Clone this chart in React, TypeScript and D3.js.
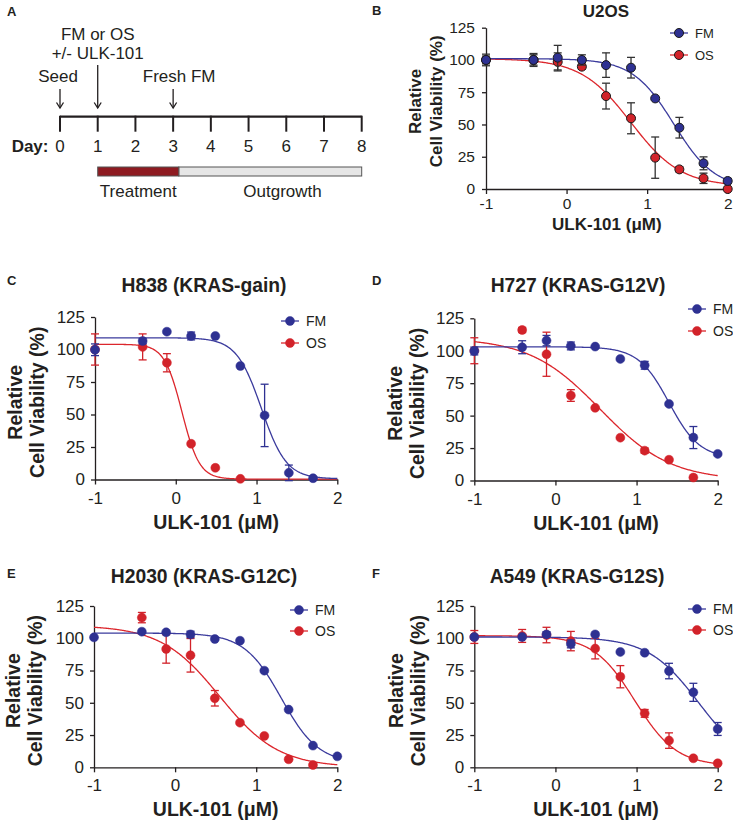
import * as d3 from 'd3';
import { useEffect, useRef } from 'react';

const FONT = "'Liberation Sans', Arial, Helvetica, sans-serif";
const INK = '#231f20';
const BLUE = '#2e3192';
const RED = '#d2232a';
const BLUE_LINE = '#3b3b9d';
const RED_LINE = '#dc262c';

// timeline (panel A)
const days = [0, 1, 2, 3, 4, 5, 6, 7, 8];
const treatment = [1, 3.15];
const outgrowth = [3.15, 8];
const events = [
  { day: 0, lines: ['Seed'], dx: -2 },
  { day: 1, lines: ['FM or OS', '+/- ULK-101'], dx: 0 },
  { day: 3, lines: ['Fresh FM'], dx: 6 },
];

// log10 ULK-101 dose (µM), 2-fold series 0.1 … 100
const logDose = [-1, -0.41, -0.11, 0.19, 0.49, 0.8, 1.1, 1.4, 1.7, 2];
const xTicks = [-1, 0, 1, 2];
const yTicks = [0, 25, 50, 75, 100, 125];

// fits: [top, bottom, logIC50, hill]
const u2osFM = [100, 100, 101.8, 100, 96, 94, 70.2, 47.5, 19.9, 6.2];
const u2osFMErr = [4.5, 5, 9.5, 4, 9.5, 8, 1, 8, 5, 2];
const u2osOS = [100, 100, 98.5, 94.8, 72, 54.8, 24.3, 15.2, 8.3, 0];
const u2osOSErr = [3, 4, 7, 2, 10, 12, 16, 2, 4, 1];
const u2osFMFit = [101, 0, 1.33, 1.7];
const u2osOSFit = [101, 2, 0.8, 1.4];

const h838FM = [99.8, 106.5, 113.7, 110.4, 110.4, 87.3, 49.3, 5.1, 1, null];
const h838FMErr = [4.5, 2, 1, 3, 1, 1, 24, 6, 1, 0];
const h838OS = [100, 102, 89.8, 27.5, 9, 0.5, null, null, null, null];
const h838OSErr = [12, 10, 7, 1, 1, 0.5, 0, 0, 0, 0];
const h838FMFit = [109, 0.5, 1.06, 2.8];
const h838OSFit = [104, 0.3, 0.076, 4];

const h727FM = [99.8, 102.7, 107.8, 103.7, 103.2, 93.7, 88.8, 59, 33.1, 20.5];
const h727FMErr = [3, 5, 4, 3, 1, 1, 3, 1, 8.5, 1];
const h727OS = [100, 116, 97.3, 65.5, 56, 33, 23, 16, 2.3, null];
const h727OSErr = [10, 2, 17, 4.5, 1, 1, 2, 1, 1, 0];
const h727FMFit = [103, 17, 1.4, 2.3];
const h727OSFit = [110, 0, 0.55, 1];

const h2030FM = [100.7, 105.1, 104.6, 103, 99.4, 98.1, 74.9, 44.7, 16.8, 8.5];
const h2030FMErr = [1, 1, 1, 2.5, 1, 1, 1, 1, 1, 1];
const h2030OS = [null, 116, 91.7, 86.8, 53.5, 34.6, 24.3, 6.2, 1.8, null];
const h2030OSErr = [0, 4, 11, 13, 6, 1, 1, 1, 1, 0];
const h2030FMFit = [104, 3, 1.31, 1.9];
const h2030OSFit = [110, 0, 0.55, 1.2];

const a549FM = [101, 101, 103, 95.6, 103, 89.4, 88.8, 74.6, 58.1, 29.7];
const a549FMErr = [1, 1, 2, 3, 1, 1, 1, 6, 7, 5];
const a549OS = [101, 101.8, 102.5, 97.8, 92, 70.2, 41.8, 20.7, 7, 3.1];
const a549OSErr = [5, 5, 6, 7.5, 8, 8.6, 3, 6, 1, 1];
const a549FMFit = [101, 0, 1.76, 1.4];
const a549OSFit = [102, 1, 0.98, 1.7];

// panel B is drawn a touch smaller than C–F in the original figure
const small = { title: 17, label: 17, tick: 15.5, legend: 13, labelShift: -7 };
const large = { title: 19.3, label: 19.5, tick: 17, legend: 14, labelShift: 4 };

const panels = [
  {
    letter: 'B', title: 'U2OS', fm: u2osFM, fmErr: u2osFMErr, os: u2osOS, osErr: u2osOSErr,
    fmFit: u2osFMFit, osFit: u2osOSFit, sz: small,
    xr: [486, 727.7], yr: [189, 27.7], letterPos: [372, 15], titlePos: [606, 17],
    legend: [679, 33, 55], relOff: -65, cellOff: -44, tickPad: 4, xLabOff: 40.5, outlined: true,
  },
  {
    letter: 'C', title: 'H838 (KRAS-gain)', fm: h838FM, fmErr: h838FMErr, os: h838OS, osErr: h838OSErr,
    fmFit: h838FMFit, osFit: h838OSFit, sz: large,
    xr: [95, 337.3], yr: [479.5, 317], letterPos: [7, 285], titlePos: [204, 292],
    legend: [290, 321, 343], relOff: -73, cellOff: -51, tickPad: 7, xLabOff: 49, outlined: false,
  },
  {
    letter: 'D', title: 'H727 (KRAS-G12V)', fm: h727FM, fmErr: h727FMErr, os: h727OS, osErr: h727OSErr,
    fmFit: h727FMFit, osFit: h727OSFit, sz: large,
    xr: [474.3, 717.7], yr: [480.5, 318.3], letterPos: [372, 285], titlePos: [578, 292],
    legend: [697, 309, 331], relOff: -72, cellOff: -50, tickPad: 7, xLabOff: 49, outlined: false,
  },
  {
    letter: 'E', title: 'H2030 (KRAS-G12C)', fm: h2030FM, fmErr: h2030FMErr, os: h2030OS, osErr: h2030OSErr,
    fmFit: h2030FMFit, osFit: h2030OSFit, sz: large,
    xr: [94, 337.3], yr: [767.3, 606], letterPos: [7, 578], titlePos: [204, 583],
    legend: [299, 610, 631], relOff: -74, cellOff: -52, tickPad: 7, xLabOff: 49, outlined: false,
  },
  {
    letter: 'F', title: 'A549 (KRAS-G12S)', fm: a549FM, fmErr: a549FMErr, os: a549OS, osErr: a549OSErr,
    fmFit: a549FMFit, osFit: a549OSFit, sz: large,
    xr: [474.3, 717.7], yr: [767.3, 606], letterPos: [372, 578], titlePos: [577, 583],
    legend: [697, 609, 630], relOff: -71, cellOff: -49, tickPad: 7, xLabOff: 49, outlined: false,
  },
];

const logistic = (p: number[], x: number) => p[1] + (p[0] - p[1]) / (1 + Math.pow(10, p[3] * (x - p[2])));

function drawTimeline(svg: d3.Selection<SVGSVGElement, unknown, null, undefined>) {
  const g = svg.append('g').attr('font-family', FONT).attr('fill', INK);
  const x = d3.scaleLinear().domain([0, 8]).range([60, 361.7]);
  const lineY = 116.7;

  g.append('text').attr('x', 7).attr('y', 16).attr('font-size', 13).attr('font-weight', 700).text('A');

  g.append('line')
    .attr('x1', x(0)).attr('x2', x(8)).attr('y1', lineY).attr('y2', lineY)
    .attr('stroke', INK).attr('stroke-width', 2.2);
  g.selectAll('line.tick')
    .data(days)
    .join('line')
    .attr('class', 'tick')
    .attr('x1', (d) => x(d)).attr('x2', (d) => x(d))
    .attr('y1', lineY - 1).attr('y2', lineY + 15)
    .attr('stroke', INK).attr('stroke-width', 2);
  g.selectAll('text.day')
    .data(days)
    .join('text')
    .attr('class', 'day')
    .attr('x', (d) => x(d)).attr('y', 151.5)
    .attr('text-anchor', 'middle').attr('font-size', 17)
    .text((d) => d);
  g.append('text').attr('x', 48.5).attr('y', 151.5).attr('text-anchor', 'end')
    .attr('font-size', 17).attr('font-weight', 700).text('Day:');

  // treatment / outgrowth bar
  g.append('rect')
    .attr('x', x(outgrowth[0])).attr('y', 167).attr('width', x(outgrowth[1]) - x(outgrowth[0])).attr('height', 9)
    .attr('fill', '#e6e6e6').attr('stroke', '#555').attr('stroke-width', 1);
  g.append('rect')
    .attr('x', x(treatment[0])).attr('y', 167).attr('width', x(treatment[1]) - x(treatment[0])).attr('height', 9)
    .attr('fill', '#8e1b21').attr('stroke', '#555').attr('stroke-width', 1);
  g.append('text').attr('x', (x(treatment[0]) + x(treatment[1])) / 2).attr('y', 197)
    .attr('text-anchor', 'middle').attr('font-size', 17).text('Treatment');
  g.append('text').attr('x', x(5.9)).attr('y', 197)
    .attr('text-anchor', 'middle').attr('font-size', 17).text('Outgrowth');

  // arrows + labels
  events.forEach((ev) => {
    const ax = x(ev.day);
    const top = ev.lines.length > 1 ? 65 : 89;
    const tip = 108;
    g.append('line').attr('x1', ax).attr('x2', ax).attr('y1', top).attr('y2', tip)
      .attr('stroke', INK).attr('stroke-width', 1.3);
    g.append('path').attr('d', `M${ax - 3.5},${tip - 5.5}L${ax},${tip}L${ax + 3.5},${tip - 5.5}`)
      .attr('fill', 'none').attr('stroke', INK).attr('stroke-width', 1.3);
    const base = ev.lines.length > 1 ? 39.5 : 82;
    ev.lines.forEach((t, i) => {
      g.append('text').attr('x', ax + ev.dx).attr('y', base + i * 19.5)
        .attr('text-anchor', 'middle').attr('font-size', 17).text(t);
    });
  });
}

function drawPanel(svg: d3.Selection<SVGSVGElement, unknown, null, undefined>, p: (typeof panels)[number]) {
  const g = svg.append('g').attr('font-family', FONT);
  const x = d3.scaleLinear().domain([-1, 2]).range(p.xr);
  const y = d3.scaleLinear().domain([0, 125]).range(p.yr);
  const x0 = p.xr[0];
  const yMid = (p.yr[0] + p.yr[1]) / 2 + p.sz.labelShift;

  g.append('text').attr('x', p.letterPos[0]).attr('y', p.letterPos[1])
    .attr('font-size', 13).attr('font-weight', 700).attr('fill', INK).text(p.letter);
  g.append('text').attr('x', p.titlePos[0]).attr('y', p.titlePos[1])
    .attr('text-anchor', 'middle').attr('font-size', p.sz.title).attr('font-weight', 700).attr('fill', INK).text(p.title);

  // axes
  const xAxis = g.append('g')
    .attr('transform', `translate(0,${p.yr[0]})`)
    .call(d3.axisBottom(x).tickValues(xTicks).tickSize(5).tickSizeOuter(0).tickPadding(p.tickPad).tickFormat((d) => String(d)));
  const yAxis = g.append('g')
    .attr('transform', `translate(${x0},0)`)
    .call(d3.axisLeft(y).tickValues(yTicks).tickSize(4).tickSizeOuter(0).tickPadding(p.outlined ? 7 : 6));
  [xAxis, yAxis].forEach((a) => {
    a.selectAll('path, line').attr('stroke', INK).attr('stroke-width', 1.3);
    a.selectAll('text').attr('font-size', p.sz.tick).attr('fill', INK).attr('font-family', FONT);
  });

  // axis titles
  g.append('text').attr('x', (p.xr[0] + p.xr[1]) / 2).attr('y', p.yr[0] + p.xLabOff)
    .attr('text-anchor', 'middle').attr('font-size', p.sz.label).attr('font-weight', 700).attr('fill', INK)
    .text('ULK-101 (\u03bcM)');
  g.append('text').attr('transform', `translate(${x0 + p.relOff},${yMid}) rotate(-90)`)
    .attr('text-anchor', 'middle').attr('font-size', p.sz.label).attr('font-weight', 700).attr('fill', INK).text('Relative');
  g.append('text').attr('transform', `translate(${x0 + p.cellOff},${yMid}) rotate(-90)`)
    .attr('text-anchor', 'middle').attr('font-size', p.sz.label).attr('font-weight', 700).attr('fill', INK).text('Cell Viability (%)');

  const series = [
    { vals: p.os, err: p.osErr, fit: p.osFit, fill: RED, line: RED_LINE },
    { vals: p.fm, err: p.fmErr, fit: p.fmFit, fill: BLUE, line: BLUE_LINE },
  ];
  const grid = d3.range(-1, 2.0001, 0.01);
  const line = d3.line<number>().x((d) => x(d)).y((d) => y(d));

  series.forEach((s) => {
    g.append('path')
      .attr('d', line.y((d) => y(logistic(s.fit, d)))(grid))
      .attr('fill', 'none').attr('stroke', s.line).attr('stroke-width', 1.3);
  });

  series.forEach((s) => {
    const pts = logDose.map((d, i) => ({ d, v: s.vals[i], e: s.err[i] })).filter((o) => o.v !== null) as { d: number; v: number; e: number }[];
    const eg = g.append('g').attr('stroke', p.outlined ? '#333' : s.fill).attr('stroke-width', 1.3);
    pts.filter((o) => o.e > 1.5).forEach((o) => {
      const cx = x(o.d);
      eg.append('line').attr('x1', cx).attr('x2', cx).attr('y1', y(o.v - o.e)).attr('y2', y(o.v + o.e));
      [o.v - o.e, o.v + o.e].forEach((v) => {
        eg.append('line').attr('x1', cx - 4).attr('x2', cx + 4).attr('y1', y(v)).attr('y2', y(v));
      });
    });
    g.append('g').selectAll('circle')
      .data(pts)
      .join('circle')
      .attr('cx', (o) => x(o.d)).attr('cy', (o) => y(o.v)).attr('r', 4.5)
      .attr('fill', s.fill)
      .attr('stroke', p.outlined ? '#1a1a1a' : s.fill)
      .attr('stroke-width', p.outlined ? 1 : 0.5);
  });

  // legend
  const [mx, fy, oy] = p.legend;
  [
    { label: 'FM', yy: fy, fill: BLUE, line: BLUE_LINE },
    { label: 'OS', yy: oy, fill: RED, line: RED_LINE },
  ].forEach((l) => {
    g.append('line').attr('x1', mx - 9).attr('x2', mx + 9).attr('y1', l.yy).attr('y2', l.yy)
      .attr('stroke', l.line).attr('stroke-width', 1.3);
    g.append('circle').attr('cx', mx).attr('cy', l.yy).attr('r', 4.5).attr('fill', l.fill)
      .attr('stroke', p.outlined ? '#1a1a1a' : l.fill).attr('stroke-width', p.outlined ? 1 : 0.5);
    g.append('text').attr('x', mx + 16).attr('y', l.yy + 4.8).attr('font-size', p.sz.legend).attr('fill', INK).text(l.label);
  });
}

export default function App() {
  const ref = useRef<SVGSVGElement | null>(null);

  useEffect(() => {
    if (!ref.current) return;
    const svg = d3.select(ref.current);
    svg.selectAll('*').remove();
    drawTimeline(svg);
    panels.forEach((p) => drawPanel(svg, p));
  }, []);

  return (
    <svg
      ref={ref}
      width={733}
      height={825}
      style={{ position: 'absolute', left: 0, top: 0, background: '#fff' }}
    />
  );
}
